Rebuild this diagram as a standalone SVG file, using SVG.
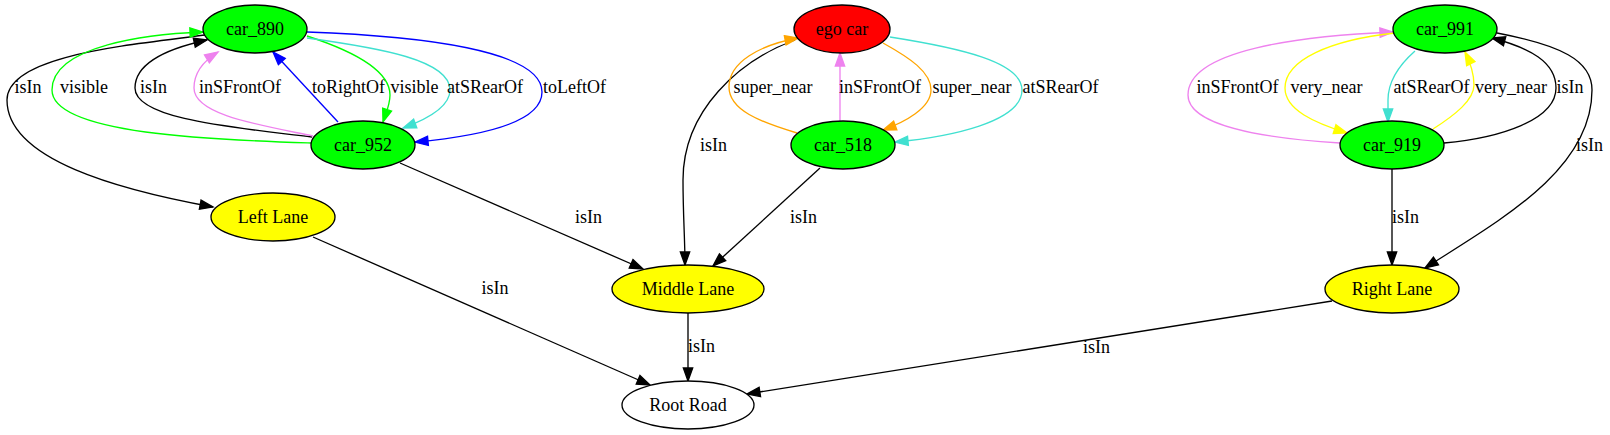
<svg xmlns="http://www.w3.org/2000/svg" width="1610" height="435" viewBox="0 0 1610 435">
<style>
text{font-family:"Liberation Serif","Times New Roman",serif;font-size:18px;text-anchor:middle;fill:#000}
.n{stroke:#000;stroke-width:1.33}
.e{fill:none;stroke-width:1.33}
.k{stroke:#000}.g{stroke:#00ff00}.v{stroke:#ee82ee}.b{stroke:#0000ff}.t{stroke:#40e0d0}.o{stroke:#ffa500}.y{stroke:#ffff00}
</style>
<defs>
<marker id="ak" markerUnits="userSpaceOnUse" markerWidth="16" markerHeight="12" refX="13" refY="4.67" orient="auto" overflow="visible"><path d="M0,0L13,4.67L0,9.33Z" fill="#000" stroke="#000" stroke-width="1.33"/></marker>
<marker id="ag" markerUnits="userSpaceOnUse" markerWidth="16" markerHeight="12" refX="13" refY="4.67" orient="auto" overflow="visible"><path d="M0,0L13,4.67L0,9.33Z" fill="#00ff00" stroke="#00ff00" stroke-width="1.33"/></marker>
<marker id="av" markerUnits="userSpaceOnUse" markerWidth="16" markerHeight="12" refX="13" refY="4.67" orient="auto" overflow="visible"><path d="M0,0L13,4.67L0,9.33Z" fill="#ee82ee" stroke="#ee82ee" stroke-width="1.33"/></marker>
<marker id="ab" markerUnits="userSpaceOnUse" markerWidth="16" markerHeight="12" refX="13" refY="4.67" orient="auto" overflow="visible"><path d="M0,0L13,4.67L0,9.33Z" fill="#0000ff" stroke="#0000ff" stroke-width="1.33"/></marker>
<marker id="at" markerUnits="userSpaceOnUse" markerWidth="16" markerHeight="12" refX="13" refY="4.67" orient="auto" overflow="visible"><path d="M0,0L13,4.67L0,9.33Z" fill="#40e0d0" stroke="#40e0d0" stroke-width="1.33"/></marker>
<marker id="ao" markerUnits="userSpaceOnUse" markerWidth="16" markerHeight="12" refX="13" refY="4.67" orient="auto" overflow="visible"><path d="M0,0L13,4.67L0,9.33Z" fill="#ffa500" stroke="#ffa500" stroke-width="1.33"/></marker>
<marker id="ay" markerUnits="userSpaceOnUse" markerWidth="16" markerHeight="12" refX="13" refY="4.67" orient="auto" overflow="visible"><path d="M0,0L13,4.67L0,9.33Z" fill="#ffff00" stroke="#ffff00" stroke-width="1.33"/></marker>
</defs>
<rect width="1610" height="435" fill="#fff"/>
<g id="connectors">
<path class="e k" marker-end="url(#ak)" d="M205,35C130,45 7,55 7,100C7,160 120,190 213,207"/>
<text x="28" y="93">isIn</text>
<path class="e g" marker-end="url(#ag)" d="M311,143C220,140 52,135 52,90C52,45 150,34 203,32"/>
<text x="84" y="93">visible</text>
<path class="e k" marker-end="url(#ak)" d="M312,137C240,128 135,120 135,88C135,62 170,48 207,40"/>
<text x="153.5" y="93">isIn</text>
<path class="e v" marker-end="url(#av)" d="M313,136C260,125 194,115 194,88C194,72 205,60 218,52"/>
<text x="240" y="93">inSFrontOf</text>
<path class="e b" marker-end="url(#ab)" d="M338,122L273,52"/>
<text x="348.5" y="93">toRightOf</text>
<path class="e g" marker-end="url(#ag)" d="M307,36C350,50 390,70 390,95C390,105 386,113 383,122"/>
<text x="414.5" y="93">visible</text>
<path class="e t" marker-end="url(#at)" d="M307,38C380,48 450,60 450,90C450,108 425,120 403,128"/>
<text x="485" y="93">atSRearOf</text>
<path class="e b" marker-end="url(#ab)" d="M307,32C420,36 542,50 542,92C542,125 470,137 415,142"/>
<text x="574.5" y="93">toLeftOf</text>
<path class="e k" marker-end="url(#ak)" d="M400,163L643,269"/>
<text x="588.5" y="223">isIn</text>
<path class="e k" marker-end="url(#ak)" d="M795,40C740,60 683,110 683,180C683,215 685,240 685,265"/>
<text x="713.5" y="151">isIn</text>
<path class="e k" marker-end="url(#ak)" d="M820,168L713,266"/>
<text x="803.5" y="223">isIn</text>
<path class="e o" marker-end="url(#ao)" d="M797,133C760,122 729,110 729,87C729,62 760,45 798,38"/>
<text x="773" y="93">super_near</text>
<path class="e v" marker-end="url(#av)" d="M840,121L840,53"/>
<text x="880" y="93">inSFrontOf</text>
<path class="e o" marker-end="url(#ao)" d="M883,43C910,58 931,72 931,90C931,108 905,122 883,130"/>
<text x="972" y="93">super_near</text>
<path class="e t" marker-end="url(#at)" d="M890,37C960,48 1022,62 1022,90C1022,122 950,137 895,142"/>
<text x="1060.5" y="93">atSRearOf</text>
<path class="e v" marker-end="url(#av)" d="M1340,143C1260,138 1188,125 1188,95C1188,50 1300,36 1393,32"/>
<text x="1237.5" y="93">inSFrontOf</text>
<path class="e y" marker-end="url(#ay)" d="M1395,33C1330,40 1285,60 1285,88C1285,110 1315,123 1347,133"/>
<text x="1326.5" y="93">very_near</text>
<path class="e t" marker-end="url(#at)" d="M1415,51C1398,66 1388,82 1388,100C1388,108 1388,115 1388,122"/>
<text x="1431.5" y="93">atSRearOf</text>
<path class="e y" marker-end="url(#ay)" d="M1433,129C1455,115 1474,100 1474,85C1474,72 1470,62 1465,52"/>
<text x="1511" y="93">very_near</text>
<path class="e k" marker-end="url(#ak)" d="M1444,143C1500,138 1556,120 1556,88C1556,62 1530,48 1492,38"/>
<text x="1570" y="93">isIn</text>
<path class="e k" marker-end="url(#ak)" d="M1497,33C1560,45 1592,60 1592,90C1592,170 1500,220 1425,268"/>
<text x="1589.5" y="151">isIn</text>
<path class="e k" marker-end="url(#ak)" d="M1392,169L1392,265"/>
<text x="1405.5" y="223">isIn</text>
<path class="e k" marker-end="url(#ak)" d="M313,237L650,385"/>
<text x="495" y="294">isIn</text>
<path class="e k" marker-end="url(#ak)" d="M688,313L688,381"/>
<text x="701.5" y="352">isIn</text>
<path class="e k" marker-end="url(#ak)" d="M1332,301L747,394"/>
<text x="1096.5" y="353">isIn</text>
</g>
<g id="car_890"><ellipse class="n" cx="255" cy="29" rx="52" ry="24" fill="#00ff00"/><text x="255" y="35">car_890</text></g>
<g id="car_952"><ellipse class="n" cx="363" cy="145" rx="52" ry="24" fill="#00ff00"/><text x="363" y="151">car_952</text></g>
<g id="left_lane"><ellipse class="n" cx="273" cy="217" rx="62" ry="24" fill="#ffff00"/><text x="273" y="223">Left Lane</text></g>
<g id="ego_car"><ellipse class="n" cx="842" cy="29" rx="48" ry="24" fill="#ff0000"/><text x="842" y="35">ego car</text></g>
<g id="car_518"><ellipse class="n" cx="843" cy="145" rx="52" ry="24" fill="#00ff00"/><text x="843" y="151">car_518</text></g>
<g id="middle_lane"><ellipse class="n" cx="688" cy="289" rx="76" ry="24" fill="#ffff00"/><text x="688" y="295">Middle Lane</text></g>
<g id="root_road"><ellipse class="n" cx="688" cy="405" rx="66" ry="24" fill="#ffffff"/><text x="688" y="411">Root Road</text></g>
<g id="car_991"><ellipse class="n" cx="1445" cy="29" rx="52" ry="24" fill="#00ff00"/><text x="1445" y="35">car_991</text></g>
<g id="car_919"><ellipse class="n" cx="1392" cy="145" rx="52" ry="24" fill="#00ff00"/><text x="1392" y="151">car_919</text></g>
<g id="right_lane"><ellipse class="n" cx="1392" cy="289" rx="67" ry="24" fill="#ffff00"/><text x="1392" y="295">Right Lane</text></g>
</svg>
